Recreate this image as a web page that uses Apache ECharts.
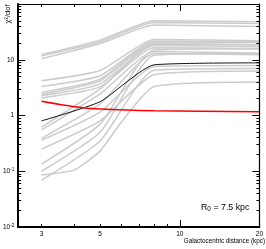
<!DOCTYPE html>
<html><head><meta charset="utf-8">
<script src="https://cdn.jsdelivr.net/npm/echarts@6/dist/echarts.min.js"></script>
<style>html,body{margin:0;padding:0;background:#fff}#c{width:266px;height:249px}</style>
</head><body><div id="c"></div>
<script>
// ---- data ----
const distances = [3, 4, 5, 6, 8, 20];           // kpc
const grayLines = [
  [12.4, null, 22.5, null, 50, 48],
  [11.7, null, 21, null, 46.5, 44.6],
  [10.4, null, 19.5, null, 42, 39.4],
  [4.2, null, 6.4, null, 23, 22],
  [3.3, null, 5.15, null, 21.5, 21],
  [2.6, null, 4.5, null, 21, 20.3],
  [2.4, null, 4.2, null, 19.5, 18.6],
  [2.25, null, 3.7, null, 18, 17.1],
  [2.07, null, 3.26, null, 16.5, 15.8],
  [0.62, null, 3.0, null, 19, 18.5],
  [0.55, null, 2.44, null, 14, 13.1],
  [0.39, null, 1.61, null, 13, 12.3],
  [0.36, null, 1.15, null, 7.6, 7.9],
  [0.25, null, 0.8, null, 5.4, 6.3],
  [0.134, null, 0.7, null, 15, 15.8],
  [0.1, null, 0.5, null, 12, 13.1],
  [0.069, null, 0.35, null, 6.5, 7.0],
  [0.086, 0.106, 0.232, 0.75, 3.3, 4.0]
];
const blackLine = [0.8, null, 1.77, null, 8.1, 8.8];
const redLine = [1.8, 1.44, 1.31, null, 1.22, 1.17];

const xRange = [2.45, 20];
const yRange = [0.01, 100];
const xTickMinor = [3, 4, 5, 6, 7, 8, 9];
const xTickMajor = [10, 20];
const xTickLabels = [3, 5, 10, 20];
const yTickMinor = [0.02,0.03,0.04,0.05,0.06,0.07,0.08,0.09,0.2,0.3,0.4,0.5,0.6,0.7,0.8,0.9,2,3,4,5,6,7,8,9,20,30,40,50,60,70,80,90];
const yTickMajor = [0.01, 0.1, 1, 10, 100];
const yTickLabels = [0.01, 0.1, 1, 10];

const xName = 'Galactocentric distance (kpc)';
const yName = 'χ²/dof';
const noteText = 'R{sub|0} = 7.5 kpc';

// ---- build ----
const FONT = '"Liberation Sans Narrow","Liberation Sans",Arial,sans-serif';
const L = Math.log10;
function pairs(vals) {
  const out = [];
  vals.forEach((v, i) => { if (v !== null) out.push([distances[i], v]); });
  return out;
}
function xFmt(v) { return String(Math.round(Math.pow(10, v))); }
function yFmt(v) {
  const e = Math.round(v);
  if (e === 0) return '1';
  if (e === 1) return '10';
  return '10{s|' + e + '}';
}
function tickAxis(dim, position, ticks, len, labels, lineWidth) {
  const r = dim === 'x' ? xRange : yRange;
  return {
    type: 'value', gridIndex: 0, position: position, offset: 0,
    min: L(r[0]), max: L(r[1]),
    axisLine: { show: lineWidth > 0, onZero: false, lineStyle: { color: '#000', width: lineWidth } },
    axisTick: { show: true, inside: true, length: len, customValues: ticks.map(L),
                lineStyle: { color: '#000', width: 1 } },
    axisLabel: labels ? {
      show: true, customValues: labels.map(L),
      formatter: dim === 'x' ? xFmt : yFmt,
      fontSize: 6.5, fontFamily: FONT, color: '#000', margin: 4,
      rich: { s: { fontSize: 4.5, fontFamily: FONT, color: '#000', verticalAlign: 'top', padding: [0, 0, 3, 0] } }
    } : { show: false },
    splitLine: { show: false }, z: 10
  };
}

const series = [];
grayLines.forEach(g => series.push({
  type: 'line', xAxisIndex: 0, yAxisIndex: 0, data: pairs(g), smooth: 0.18,
  showSymbol: false, lineStyle: { color: '#cccccc', width: 1.5 }, silent: true, z: 2
}));
series.push({ type: 'line', xAxisIndex: 0, yAxisIndex: 0, data: pairs(blackLine), smooth: 0.18,
  showSymbol: false, lineStyle: { color: '#111', width: 1 }, z: 3 });
series.push({ type: 'line', xAxisIndex: 0, yAxisIndex: 0, data: pairs(redLine), smooth: 0.3,
  showSymbol: false, lineStyle: { color: '#ff0000', width: 1.6 }, z: 4 });

const option = {
  animation: false,
  backgroundColor: '#fff',
  grid: { left: 14, right: 3, top: 4, bottom: 22, containLabel: false },
  xAxis: [
    { type: 'log', logBase: 10, min: xRange[0], max: xRange[1], show: false },
    tickAxis('x', 'bottom', xTickMinor, 3, null, 2),
    tickAxis('x', 'bottom', xTickMajor, 7, xTickLabels, 0),
    tickAxis('x', 'top', xTickMinor, 3, null, 1.2),
    tickAxis('x', 'top', xTickMajor, 7, null, 0)
  ],
  yAxis: [
    { type: 'log', logBase: 10, min: yRange[0], max: yRange[1], show: false },
    tickAxis('y', 'left', yTickMinor, 3, null, 2),
    tickAxis('y', 'left', yTickMajor, 7, yTickLabels, 0),
    tickAxis('y', 'right', yTickMinor, 3, null, 1.2),
    tickAxis('y', 'right', yTickMajor, 7, null, 0)
  ],
  series: series,
  graphic: [
    { type: 'text', right: 1, top: 238, z: 20,
      style: { text: xName, fontSize: 6.3, fontFamily: FONT, fill: '#000' } },
    { type: 'text', x: 8, y: 14, rotation: Math.PI / 2, z: 20,
      style: { text: yName, fontSize: 7.5, fontFamily: FONT, fill: '#000', align: 'center', verticalAlign: 'middle' } },
    { type: 'text', x: 201, y: 202, z: 20,
      style: { text: noteText, fontSize: 8.8, fontFamily: FONT, fill: '#000',
        rich: { sub: { fontSize: 6.5, fontFamily: FONT, fill: '#000', verticalAlign: 'bottom', padding: [4, 0, 0, 0] } } } }
  ]
};
const chart = echarts.init(document.getElementById('c'), null, { renderer: 'canvas' });
chart.setOption(option);
</script>
</body></html>
